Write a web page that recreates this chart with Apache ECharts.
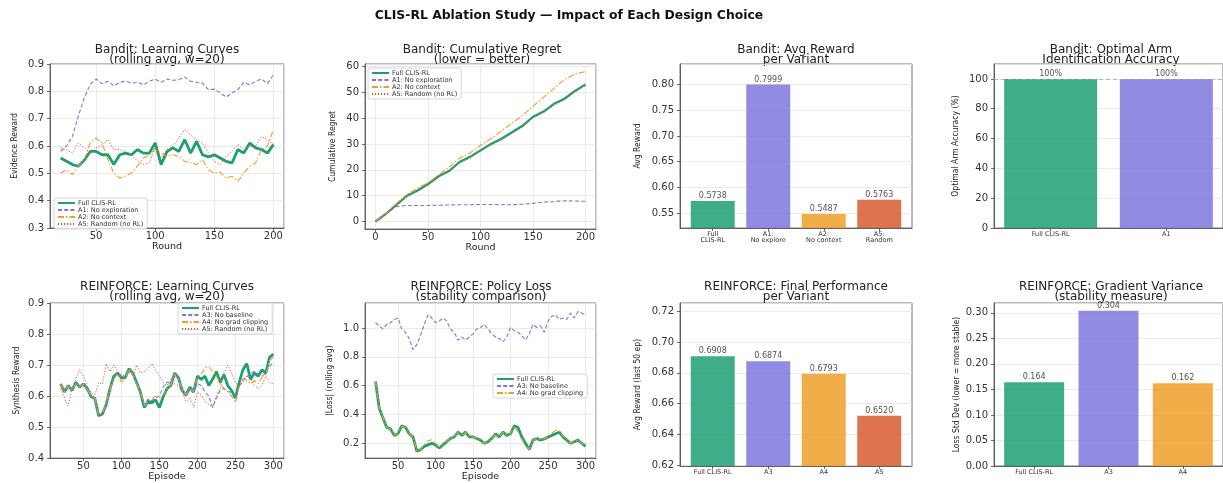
<!DOCTYPE html>
<html><head><meta charset="utf-8">
<script src="https://cdn.jsdelivr.net/npm/echarts@6/dist/echarts.min.js"></script>
<style>html,body{margin:0;padding:0;background:#fff}#c{width:1223px;height:483px}</style>
</head><body><div id="c"></div><script>
// ---------- DATA ----------
const banditRounds = [20,25,30,35,40,45,50,55,60,65,70,75,80,85,90,95,100,105,110,115,120,125,130,135,140,145,150,155,160,165,170,175,180,185,190,195,200];
const banditFull = [.556,.544,.532,.526,.548,.580,.580,.568,.568,.532,.568,.574,.568,.587,.574,.574,.611,.532,.580,.593,.580,.623,.574,.617,.568,.560,.568,.556,.544,.538,.587,.574,.611,.593,.587,.574,.605];
const banditA1 = [.580,.600,.635,.710,.776,.825,.845,.828,.837,.820,.833,.837,.830,.833,.824,.837,.845,.833,.845,.840,.843,.852,.837,.833,.830,.806,.808,.794,.779,.794,.806,.833,.824,.837,.845,.828,.861];
const banditA2 = [.501,.513,.495,.526,.550,.611,.629,.611,.550,.501,.483,.490,.501,.526,.556,.568,.587,.574,.562,.568,.562,.544,.538,.532,.550,.513,.501,.505,.483,.489,.471,.501,.526,.538,.587,.599,.660];
const banditA5 = [.593,.587,.574,.611,.593,.574,.593,.605,.623,.587,.587,.580,.568,.544,.532,.538,.599,.556,.587,.599,.629,.660,.641,.623,.611,.574,.544,.532,.562,.580,.605,.587,.599,.599,.635,.623,.605];

const regretRounds = [0,10,20,30,40,50,60,70,80,90,100,110,120,130,140,150,160,170,180,190,200];
const regretFull = [0,3,6.5,10,12,14.5,17.5,19.5,23,25,27.5,30,32,34.5,37,40.5,42.5,45.5,47.5,50.5,53];
const regretA1 = [0,3,5.8,6.2,6.2,6.2,6.3,6.4,6.5,6.5,6.6,6.6,6.5,6.5,6.7,7.0,7.5,7.7,8.0,7.9,7.8];
const regretA2 = [0,3.3,7,10.5,13,15,18,21,24.5,26.5,29.5,32,35,38,41,44.5,48,51.5,55,57,58];
const regretA5 = [0,2.8,6,9.5,11.5,14,17,19.5,22.5,24.5,27,29.5,31.5,34,36.5,40,42,45,47,50,52.5];

const episodes = [20,25,30,35,40,45,50,55,60,65,70,75,80,85,90,95,100,105,110,115,120,125,130,135,140,145,150,155,160,165,170,175,180,185,190,195,200,205,210,215,220,225,230,235,240,245,250,255,260,265,270,275,280,285,290,295,300];
const rfFull = [.639,.613,.634,.618,.644,.629,.639,.624,.598,.593,.537,.542,.573,.624,.664,.674,.659,.659,.688,.674,.644,.613,.563,.583,.578,.588,.563,.598,.624,.634,.674,.659,.618,.603,.629,.613,.664,.654,.664,.634,.654,.679,.644,.669,.634,.618,.593,.644,.685,.705,.654,.674,.664,.685,.674,.725,.735];
const rfA3 = [.637,.612,.632,.620,.642,.628,.637,.622,.600,.592,.540,.545,.575,.620,.660,.676,.662,.655,.685,.672,.640,.618,.570,.590,.585,.595,.600,.630,.645,.640,.670,.655,.615,.600,.620,.613,.640,.634,.613,.600,.563,.593,.618,.624,.615,.612,.603,.630,.654,.662,.674,.679,.672,.664,.674,.695,.710];
const rfA4 = [.638,.614,.633,.619,.643,.630,.638,.623,.599,.594,.540,.545,.575,.625,.655,.670,.645,.655,.686,.670,.640,.615,.570,.585,.590,.600,.595,.605,.625,.635,.670,.655,.620,.605,.625,.615,.660,.670,.690,.695,.680,.665,.640,.625,.615,.600,.578,.630,.655,.650,.640,.650,.640,.660,.670,.715,.725];
const rfA5 = [.624,.593,.568,.624,.654,.685,.664,.634,.613,.603,.644,.639,.705,.679,.700,.679,.669,.664,.679,.664,.700,.674,.679,.690,.705,.684,.664,.644,.634,.654,.639,.634,.613,.583,.593,.563,.613,.603,.583,.573,.563,.603,.624,.674,.700,.674,.644,.634,.644,.664,.654,.634,.624,.634,.664,.644,.639];

const lossFull = [.630,.442,.376,.310,.300,.255,.266,.321,.310,.266,.244,.145,.156,.178,.189,.200,.189,.167,.189,.211,.233,.244,.277,.255,.277,.244,.244,.233,.222,.200,.211,.233,.266,.244,.277,.255,.266,.321,.310,.244,.200,.156,.222,.233,.222,.230,.244,.255,.266,.277,.244,.222,.200,.211,.222,.200,.178];
const lossA3 = [1.037,1.015,.993,1.026,1.037,1.060,1.070,.993,.971,.927,.850,.883,.949,1.026,1.093,1.070,1.037,1.048,1.070,1.048,.993,.971,.916,.938,.916,.938,.960,.993,1.004,1.026,.993,.960,.938,.927,.905,.938,1.004,.982,.971,.949,.916,.960,1.026,1.004,1.015,.971,1.048,1.081,1.093,1.060,1.070,1.060,1.104,1.070,1.115,1.104,1.093];
const lossA4 = [.628,.440,.378,.312,.298,.257,.268,.319,.308,.268,.246,.147,.158,.190,.215,.225,.200,.175,.190,.213,.231,.246,.275,.253,.275,.246,.242,.235,.224,.202,.213,.231,.264,.246,.275,.257,.268,.319,.280,.230,.180,.160,.220,.235,.224,.232,.246,.270,.290,.285,.250,.224,.202,.213,.224,.202,.176];

const bAvgCats = ['Full\nCLIS-RL','A1:\nNo explore','A2:\nNo context','A5:\nRandom'];
const bAvgVals = [0.5738,0.7999,0.5487,0.5763];
const bAccCats = ['Full CLIS-RL','A1'];
const bAccVals = [100,100];
const rPerfCats = ['Full CLIS-RL','A3','A4','A5'];
const rPerfVals = [0.6908,0.6874,0.6793,0.6520];
const rVarCats = ['Full CLIS-RL','A3','A4'];
const rVarVals = [0.164,0.304,0.162];

// ---------- STYLE ----------
const GREEN='#1D9E75', PURPLE='#7F77DD', ORANGE='#EF9F27', CORAL='#D85A30';
const FONT='DejaVu Sans', NARROW='"DejaVu Sans Condensed","Liberation Sans Narrow",sans-serif';
const grids = [
  {left:50, top:64, width:234, height:164},
  {left:365,top:64, width:231, height:165},
  {left:680,top:64, width:232, height:164},
  {left:994,top:64, width:233, height:164},
  {left:50, top:303,width:234, height:163},
  {left:365,top:303,width:231, height:162},
  {left:680,top:303,width:232, height:163},
  {left:994,top:303,width:233, height:163}
];
const zip=(xs,ys)=>xs.map((x,i)=>[x,ys[i]]);
const axisCommon = {
  axisLine:{show:true,onZero:false,lineStyle:{color:'#444',width:0.8}},
  axisTick:{show:true,length:3,lineStyle:{color:'#444',width:0.8}},
};
function valAxis(gi,min,max,opt){
  return Object.assign({type:'value',gridIndex:gi,min:min,max:max,
    axisLine:axisCommon.axisLine, axisTick:axisCommon.axisTick,
    axisLabel:Object.assign({fontSize:10,color:'#333',fontFamily:FONT,margin:3,showMinLabel:false,showMaxLabel:false},opt.label||{}),
    splitLine:{show:opt.split!==false,lineStyle:{color:'#e6e6e6',width:0.8}},
    name:opt.name||'',nameLocation:'middle',nameGap:opt.gap||10,
    nameTextStyle:opt.nameStyle||{fontSize:9.5,color:'#222',fontFamily:FONT}
  },opt.extra||{});
}
const yNameStyle={fontSize:8.5,color:'#222',fontFamily:NARROW};
function catAxis(gi,cats,n){
  const vals=cats.map((c,i)=>i);
  const m = 0.4+0.05*((n-1)+0.8);
  return {type:'value',gridIndex:gi,min:-m,max:(n-1)+m,
    axisLine:axisCommon.axisLine,
    axisTick:{show:true,length:3,customValues:vals,lineStyle:{color:'#444',width:0.8}},
    axisLabel:{customValues:vals,formatter:v=>cats[Math.round(v)],fontSize:6.5,lineHeight:6,color:'#333',fontFamily:FONT,margin:3},
    splitLine:{show:false}};
}
function line(name,xi,xs,ys,color,width,type){
  return {type:'line',name:name,xAxisIndex:xi,yAxisIndex:xi,data:zip(xs,ys),symbol:'none',
    lineStyle:{color:color,width:width,type:type},itemStyle:{color:color},silent:true,emphasis:{disabled:true}};
}
function bars(gi,vals,colors,width,fmt,extra){
  return Object.assign({type:'bar',xAxisIndex:gi,yAxisIndex:gi,barWidth:width,silent:true,
    data:vals.map((v,i)=>({value:[i,v],itemStyle:{color:colors[i],opacity:0.85}})),
    label:{show:true,position:'top',distance:1,fontSize:8,color:'#333',fontFamily:FONT,formatter:p=>fmt(p.value[1])}
  },extra||{});
}
function legend(left,top,names){
  return {left:left,top:top,orient:'vertical',data:names,selectedMode:false,
    itemWidth:17,itemHeight:5,itemGap:0,padding:[1.5,4,1.5,3],
    itemStyle:{opacity:0},
    backgroundColor:'rgba(255,255,255,0.85)',borderColor:'#ccc',borderWidth:0.8,borderRadius:2,
    textStyle:{fontSize:6.5,lineHeight:5.4,color:'#333',fontFamily:FONT,padding:[0,0,0,-2]}};
}
const DASH=[4,2.2], DASHDOT=[6,2,1.5,2], DOT=[1.2,1.8];

const xAxes=[
  valAxis(0,11,209,{name:'Round',gap:5,extra:{splitNumber:4}}),
  valAxis(1,-10,210,{name:'Round',gap:5,extra:{splitNumber:4}}),
  catAxis(2,bAvgCats,4),
  catAxis(3,bAccCats,2),
  valAxis(4,6,314,{name:'Episode',gap:8}),
  valAxis(5,6,314,{name:'Episode',gap:8}),
  catAxis(6,rPerfCats,4),
  catAxis(7,rVarCats,3)
];
const yAxes=[
  valAxis(0,0.3,0.9,{name:'Evidence Reward',gap:31,nameStyle:yNameStyle,label:{margin:6,showMinLabel:true,showMaxLabel:true},extra:{interval:0.1}}),
  valAxis(1,-2.9,60.9,{name:'Cumulative Regret',gap:28,nameStyle:yNameStyle,label:{margin:6}}),
  valAxis(2,0.52127,0.83990,{name:'Avg Reward',gap:38,nameStyle:yNameStyle,label:{margin:6,formatter:v=>v.toFixed(2)}}),
  valAxis(3,0,110,{name:'Optimal Arm Accuracy (%)',gap:34,nameStyle:yNameStyle,label:{margin:6,showMinLabel:true}}),
  valAxis(4,0.4,0.9,{name:'Synthesis Reward',gap:29,nameStyle:yNameStyle,label:{margin:6,showMinLabel:true,showMaxLabel:true},extra:{interval:0.1}}),
  valAxis(5,0.097,1.174,{name:'|Loss| (rolling avg)',gap:31,nameStyle:yNameStyle,label:{margin:6,formatter:v=>v.toFixed(1)}}),
  valAxis(6,0.6194,0.72534,{name:'Avg Reward (last 50 ep)',gap:38,nameStyle:yNameStyle,label:{margin:6,formatter:v=>v.toFixed(2)}}),
  valAxis(7,0,0.3192,{name:'Loss Std Dev (lower = more stable)',gap:33,nameStyle:yNameStyle,label:{margin:6,showMinLabel:true,formatter:v=>v.toFixed(2)}})
];
const series=[
  line('Full CLIS-RL',0,banditRounds,banditFull,GREEN,2.8,'solid'),
  line('A1: No exploration',0,banditRounds,banditA1,PURPLE,1.1,DASH),
  line('A2: No context',0,banditRounds,banditA2,ORANGE,1.1,DASHDOT),
  line('A5: Random (no RL)',0,banditRounds,banditA5,CORAL,1.0,DOT),
  line('Full CLIS-RL',1,regretRounds,regretFull,GREEN,2.2,'solid'),
  line('A1: No exploration',1,regretRounds,regretA1,PURPLE,1.1,DASH),
  line('A2: No context',1,regretRounds,regretA2,ORANGE,1.1,DASHDOT),
  line('A5: Random (no RL)',1,regretRounds,regretA5,CORAL,1.0,DOT),
  bars(2,bAvgVals,[GREEN,PURPLE,ORANGE,CORAL],44,v=>v.toFixed(4)),
  bars(3,bAccVals,[GREEN,PURPLE],93,v=>v.toFixed(0)+'%',{markLine:{silent:true,symbol:'none',label:{show:false},lineStyle:{color:'#aaa',type:[4,3],width:0.8},data:[{yAxis:100}]}}),
  line('Full CLIS-RL',4,episodes,rfFull,GREEN,2.8,'solid'),
  line('A3: No baseline',4,episodes,rfA3,PURPLE,1.1,DASH),
  line('A4: No grad clipping',4,episodes,rfA4,ORANGE,1.1,DASHDOT),
  line('A5: Random (no RL)',4,episodes,rfA5,CORAL,1.0,DOT),
  line('Full CLIS-RL',5,episodes,lossFull,GREEN,2.8,'solid'),
  line('A3: No baseline',5,episodes,lossA3,PURPLE,1.1,DASH),
  line('A4: No grad clipping',5,episodes,lossA4,ORANGE,1.1,DASHDOT),
  bars(6,rPerfVals,[GREEN,PURPLE,ORANGE,CORAL],44,v=>v.toFixed(4)),
  bars(7,rVarVals,[GREEN,PURPLE,ORANGE],60,v=>v.toFixed(3))
];
const subTitles=[
  [167,'Bandit: Learning Curves\n(rolling avg, w=20)'],
  [482,'Bandit: Cumulative Regret\n(lower = better)'],
  [796,'Bandit: Avg Reward\nper Variant'],
  [1111,'Bandit: Optimal Arm\nIdentification Accuracy'],
  [167,'REINFORCE: Learning Curves\n(rolling avg, w=20)'],
  [481,'REINFORCE: Policy Loss\n(stability comparison)'],
  [796,'REINFORCE: Final Performance\nper Variant'],
  [1111,'REINFORCE: Gradient Variance\n(stability measure)']
];
const graphics=[{type:'text',x:569,y:16,style:{text:'CLIS-RL Ablation Study — Impact of Each Design Choice',align:'center',verticalAlign:'middle',font:'bold 12.4px "DejaVu Sans"',fill:'#111'}}];
subTitles.forEach((t,i)=>graphics.push({type:'text',x:t[0],y:i<4?45.5:282.5,style:{text:t[1],align:'center',verticalAlign:'top',font:'12px "DejaVu Sans"',lineHeight:9.5,fill:'#222'}}));

const chart=echarts.init(document.getElementById('c'),null,{renderer:'canvas'});
chart.setOption({
  animation:false,backgroundColor:'#fff',
  grid:grids.map(g=>Object.assign({show:true,borderColor:'#555',borderWidth:0.8,backgroundColor:'transparent',containLabel:false},g)),
  xAxis:xAxes,yAxis:yAxes,series:series,
  legend:[
    legend(54,198,['Full CLIS-RL','A1: No exploration','A2: No context','A5: Random (no RL)']),
    legend(368,68,['Full CLIS-RL','A1: No exploration','A2: No context','A5: Random (no RL)']),
    legend(178,303,['Full CLIS-RL','A3: No baseline','A4: No grad clipping','A5: Random (no RL)']),
    legend(493,374,['Full CLIS-RL','A3: No baseline','A4: No grad clipping'])
  ],
  graphic:graphics
});
</script></body></html>
